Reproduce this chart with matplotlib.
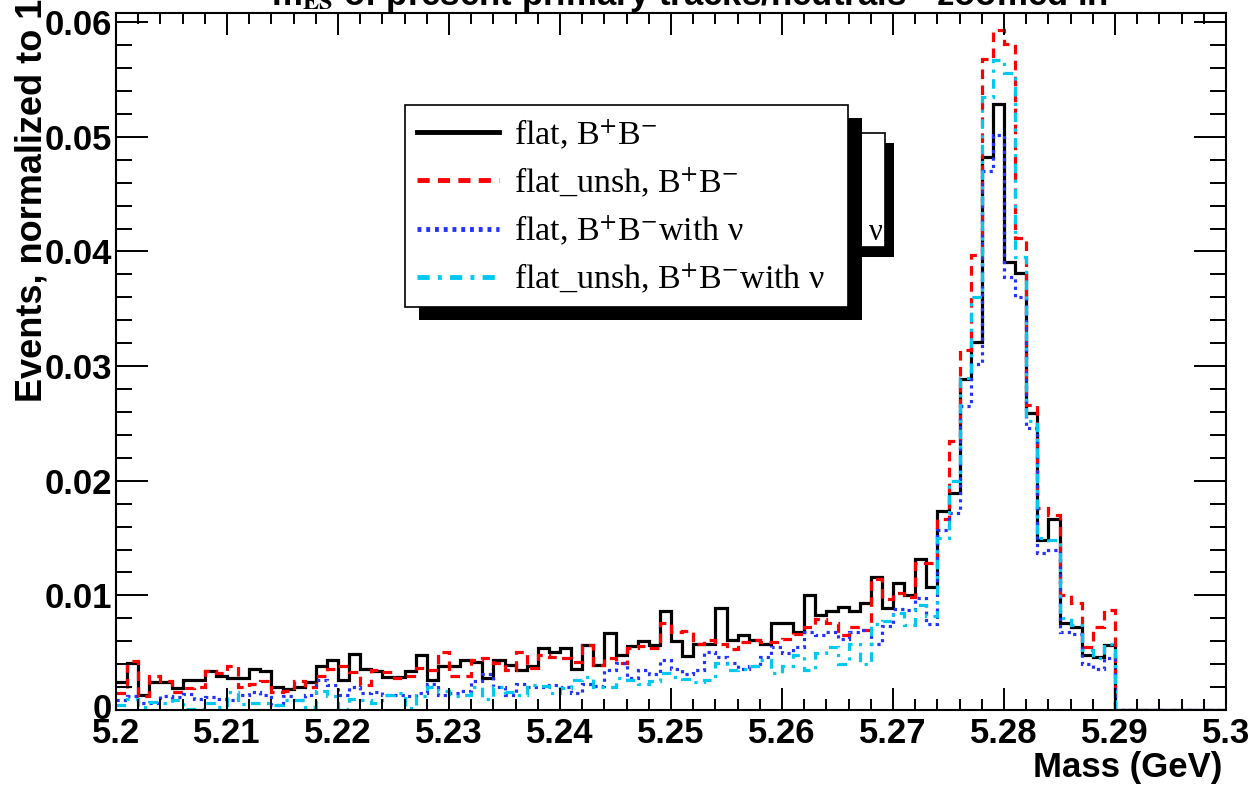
import numpy as np
import matplotlib.pyplot as plt
from matplotlib.patches import Rectangle
from matplotlib.lines import Line2D
from matplotlib.font_manager import FontProperties
from matplotlib.transforms import ScaledTranslation

# 100 bins of 1 MeV between 5.20 and 5.30 GeV
lo, hi, nbins = 5.2, 5.3, 100

flat = [0.0024, 0.0041, 0.0013, 0.0024, 0.0024, 0.0019, 0.0026, 0.0026, 0.0034, 0.0030,
        0.0028, 0.0028, 0.0036, 0.0034, 0.0020, 0.0018, 0.0020, 0.0024, 0.0038, 0.0044,
        0.0026, 0.0049, 0.0036, 0.0034, 0.0029, 0.0029, 0.0034, 0.0048, 0.0026, 0.0038,
        0.0038, 0.0044, 0.0042, 0.0028, 0.0044, 0.0039, 0.0035, 0.0038, 0.0054, 0.0051,
        0.0054, 0.0036, 0.0057, 0.0039, 0.0067, 0.0048, 0.0056, 0.0060, 0.0057, 0.0086,
        0.0060, 0.0047, 0.0058, 0.0058, 0.0089, 0.0061, 0.0065, 0.0061, 0.0058, 0.0076,
        0.0076, 0.0068, 0.0100, 0.0083, 0.0086, 0.0090, 0.0086, 0.0093, 0.0116, 0.0089,
        0.0111, 0.0100, 0.0132, 0.0107, 0.0174, 0.0189, 0.0289, 0.0321, 0.0482, 0.0529,
        0.0391, 0.0381, 0.0259, 0.0148, 0.0167, 0.0076, 0.0072, 0.0048, 0.0046, 0.0057,
        0, 0, 0, 0, 0, 0, 0, 0, 0, 0]

flat_unsh = [0.0015, 0.0043, 0.0012, 0.0030, 0.0025, 0.0016, 0.0019, 0.0020, 0.0034, 0.0032,
             0.0038, 0.0020, 0.0023, 0.0025, 0.0016, 0.0017, 0.0025, 0.0020, 0.0030, 0.0036,
             0.0038, 0.0033, 0.0022, 0.0035, 0.0033, 0.0028, 0.0030, 0.0037, 0.0035, 0.0051,
             0.0030, 0.0030, 0.0044, 0.0045, 0.0041, 0.0035, 0.0051, 0.0037, 0.0048, 0.0046,
             0.0045, 0.0042, 0.0057, 0.0039, 0.0045, 0.0041, 0.0054, 0.0056, 0.0054, 0.0076,
             0.0068, 0.0069, 0.0058, 0.0061, 0.0058, 0.0053, 0.0059, 0.0061, 0.0059, 0.0059,
             0.0062, 0.0066, 0.0072, 0.0079, 0.0076, 0.0065, 0.0072, 0.0070, 0.0114, 0.0097,
             0.0102, 0.0099, 0.0128, 0.0128, 0.0167, 0.0235, 0.0314, 0.0397, 0.0568, 0.0593,
             0.0581, 0.0412, 0.0266, 0.0176, 0.0170, 0.0100, 0.0093, 0.0055, 0.0072, 0.0087,
             0, 0, 0, 0, 0, 0, 0, 0, 0, 0]

flat_nu = [0.0009, 0.0012, 0.0006, 0.0006, 0.0012, 0.0011, 0.0014, 0.0010, 0.0011, 0.0010,
           0.0009, 0.0013, 0.0016, 0.0013, 0.0004, 0.0012, 0.0009, 0.0013, 0.0026, 0.0022,
           0.0013, 0.0020, 0.0015, 0.0016, 0.0013, 0.0013, 0.0012, 0.0015, 0.0023, 0.0013,
           0.0015, 0.0017, 0.0025, 0.0031, 0.0020, 0.0013, 0.0023, 0.0020, 0.0020, 0.0022,
           0.0020, 0.0015, 0.0023, 0.0021, 0.0035, 0.0041, 0.0028, 0.0035, 0.0031, 0.0044,
           0.0036, 0.0031, 0.0035, 0.0051, 0.0046, 0.0041, 0.0036, 0.0038, 0.0046, 0.0055,
           0.0050, 0.0055, 0.0068, 0.0065, 0.0068, 0.0062, 0.0068, 0.0070, 0.0058, 0.0073,
           0.0088, 0.0087, 0.0098, 0.0075, 0.0157, 0.0172, 0.0265, 0.0302, 0.0470, 0.0502,
           0.0378, 0.0360, 0.0246, 0.0137, 0.0140, 0.0068, 0.0066, 0.0040, 0.0036, 0.0045,
           0, 0, 0, 0, 0, 0, 0, 0, 0, 0]

flat_unsh_nu = [0.0004, 0.0010, 0.0003, 0.0007, 0.0006, 0.0009, 0.0001, 0.0001, 0.0006, 0.0003,
                0.0016, 0.0005, 0.0006, 0.0006, 0.0004, 0.0009, 0.0009, 0.0003, 0.0017, 0.0012,
                0.0001, 0.0010, 0.0009, 0.0006, 0.0013, 0.0015, 0.0002, 0.0012, 0.0020, 0.0017,
                0.0012, 0.0013, 0.0020, 0.0010, 0.0020, 0.0016, 0.0013, 0.0022, 0.0021, 0.0015,
                0.0019, 0.0026, 0.0029, 0.0020, 0.0020, 0.0028, 0.0026, 0.0023, 0.0025, 0.0032,
                0.0029, 0.0027, 0.0024, 0.0026, 0.0041, 0.0035, 0.0036, 0.0038, 0.0044, 0.0032,
                0.0038, 0.0048, 0.0035, 0.0050, 0.0055, 0.0040, 0.0058, 0.0040, 0.0075, 0.0078,
                0.0085, 0.0074, 0.0092, 0.0082, 0.0150, 0.0200, 0.0290, 0.0360, 0.0535, 0.0567,
                0.0556, 0.0395, 0.0252, 0.0150, 0.0148, 0.0080, 0.0074, 0.0052, 0.0045, 0.0058,
                0, 0, 0, 0, 0, 0, 0, 0, 0, 0]

labels = [r"flat, B$^{+}$B$^{-}$",
          r"flat_unsh, B$^{+}$B$^{-}$",
          r"flat, B$^{+}$B$^{-}$with ν",
          r"flat_unsh, B$^{+}$B$^{-}$with ν"]

plt.rcParams['mathtext.fontset'] = 'stix'
plt.rcParams['font.family'] = ['Liberation Sans', 'DejaVu Sans']

W, H = 1251, 785
fig = plt.figure(figsize=(W / 100, H / 100), dpi=100)
ax = fig.add_axes([116 / W, 1 - 710 / H, 1110 / W, 697 / H])

edges = np.linspace(lo, hi, nbins + 1)
lw = 2.3
ax.stairs(flat, edges, color='black', lw=lw, baseline=None)
ax.stairs(flat_unsh, edges, color='#ff0000', lw=lw, ls=(0, (3, 2)), baseline=None)
ax.stairs(flat_nu, edges, color='#2233ff', lw=lw, ls=(0, (1, 1.3)), baseline=None)
ax.stairs(flat_unsh_nu, edges, color='#00c8f0', lw=lw, ls=(0, (3, 2, 1, 2)), baseline=None)

ax.set_xlim(lo, hi)
ax.set_ylim(0, 0.0608)
ax.set_xticks(np.arange(0, 11) * 0.01 + lo)
ax.set_xticks(np.arange(0, 51) * 0.002 + lo, minor=True)
ax.set_yticks(np.arange(0, 7) * 0.01)
ax.set_yticks(np.arange(0, 31) * 0.002, minor=True)
ax.set_xticklabels([f"{round(v, 3):g}" for v in ax.get_xticks()])
ax.set_yticklabels(["0" if v == 0 else f"{v:.2f}" for v in ax.get_yticks()])

ax.tick_params(which='both', direction='in', top=True, right=True, width=1.4,
               labelsize=25)
ax.tick_params(axis='x', which='major', length=15.8, pad=5)
ax.tick_params(axis='x', which='minor', length=7.9)
ax.tick_params(axis='y', which='major', length=23, pad=3)
ax.tick_params(axis='y', which='minor', length=11.5)
for lab in ax.get_xticklabels() + ax.get_yticklabels():
    lab.set_fontweight('bold')
zero = ax.get_yticklabels()[0]
zero.set_transform(zero.get_transform() + ScaledTranslation(0, 4 / 100, fig.dpi_scale_trans))
for sp in ax.spines.values():
    sp.set_linewidth(1.5)

fig.text(1222 / W, 1 - 767 / H, "Mass (GeV)", ha='right', va='center',
         fontsize=25, fontweight='bold')
fig.text(32 / W, 1 - 200 / H, "Events, normalized to 1", rotation=90,
         ha='center', va='center', fontsize=26, fontweight='bold')
fig.text(690 / W, 1 - 5 / H, r"m$_{\mathbf{ES}}$ of present primary tracks/neutrals - zoomed in",
         ha='center', va='baseline', fontsize=25, fontweight='bold')

# legend hidden behind the main one (only its right edge shows)
tr = fig.transFigure
ax.add_patch(Rectangle((569 / W, 1 - 257 / H), 325 / W, 114 / H, transform=tr,
                       facecolor='black', edgecolor='none', zorder=4.6, clip_on=False))
ax.add_patch(Rectangle((560 / W, 1 - 247 / H), 325 / W, 114 / H, transform=tr,
                       facecolor='white', edgecolor='black', lw=1.2, zorder=4.7, clip_on=False))
ax.text(883 / W, 1 - 232 / H, "ν", transform=tr, ha='right', va='center',
        family='Liberation Serif', fontsize=22, zorder=4.8)

handles = [Line2D([], [], color='black', lw=3.5),
           Line2D([], [], color='#ff0000', lw=3.5, ls=(0, (2.5, 1.7))),
           Line2D([], [], color='#2233ff', lw=3.5, ls=(0, (0.8, 1.0))),
           Line2D([], [], color='#00c8f0', lw=3.5, ls=(0, (2.5, 1.7, 0.8, 1.7)))]
leg = ax.legend(handles, labels, loc='upper left',
                bbox_to_anchor=(405 / W, 1 - 297 / H, 443 / W, 192 / H),
                bbox_transform=tr, mode='expand', frameon=True, fancybox=False,
                edgecolor='black', framealpha=1, borderpad=0.35, labelspacing=0.4,
                handlelength=2.4, handletextpad=0.45, borderaxespad=0,
                prop=FontProperties(family='Liberation Serif', size=24.5))
leg.get_frame().set_linewidth(1.2)
leg.set_zorder(5)

fig.canvas.draw()
bb = leg.get_window_extent().transformed(tr.inverted())
ax.add_patch(Rectangle((bb.x0 + 14 / W, bb.y0 - 13 / H), bb.width, bb.height,
                       transform=tr, facecolor='black', edgecolor='none',
                       zorder=4.9, clip_on=False))

fig.savefig("out.png", dpi=100)
